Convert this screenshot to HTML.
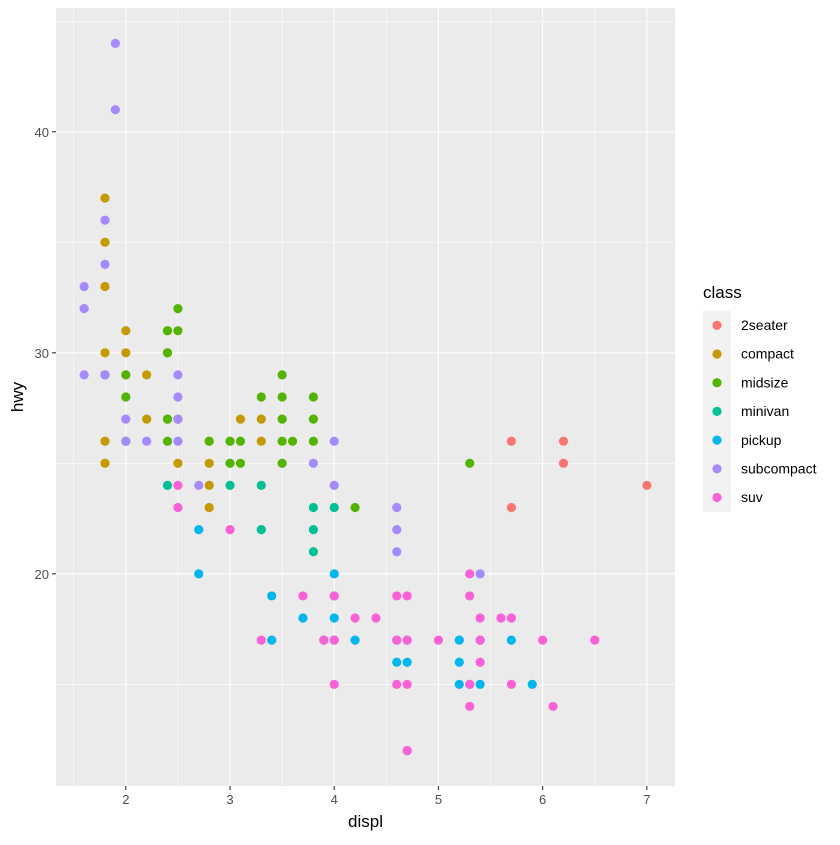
<!DOCTYPE html>
<html><head><meta charset="utf-8"><style>body{margin:0;background:#fff}svg{font-family:"Liberation Sans",sans-serif}</style></head>
<body>
<svg id="chart" width="840" height="840"></svg>
<script>
const classes=["2seater","compact","midsize","minivan","pickup","subcompact","suv"];
const colors=["#F8766D","#C49A00","#53B400","#00C094","#00B6EB","#A58AFF","#FB61D7"];
const displ=[5.7,6.2,6.2,5.7,7,
1.8,1.8,1.8,1.8,1.8,1.8,1.8,2,2,2,2.2,2.2,2.4,2.4,2.4,2.5,2.5,2.8,2.8,2.8,2.8,3,3.1,3.3,3.3,
1.8,2,2,2,2.4,2.4,2.4,2.4,2.5,2.5,2.8,3,3,3.1,3.1,3.3,3.5,3.5,3.5,3.5,3.5,3.6,3.8,3.8,3.8,4.2,5.3,
2.4,3,3.3,3.3,3.8,3.8,3.8,4,
2.7,2.7,3.4,3.4,3.7,4,4,4,4,4.2,4.6,4.6,4.7,4.7,4.7,5.2,5.2,5.2,5.4,5.3,5.4,5.7,5.9,3.9,
1.6,1.6,1.6,1.8,1.9,1.9,1.8,1.8,2,2,2.2,2.5,2.5,2.5,2.5,2.7,3.8,4,4,4.6,4.6,4.6,5.4,
2.5,2.5,3,3.3,3.7,3.9,4,4,4,4.2,4.4,4.6,4.6,4.6,4.7,4.7,4.7,4.7,5,5.3,5.3,5.3,5.3,5.4,5.4,5.4,5.6,5.7,5.7,6,6.1,6.5];
const hwy=[26,26,25,23,24,
37,35,33,30,29,26,25,31,30,29,29,27,31,30,27,27,25,25,24,23,26,26,27,27,26,
29,29,28,26,31,30,27,26,32,31,26,26,25,26,25,28,29,28,27,26,25,26,28,27,26,23,25,
24,24,24,22,23,22,21,23,
22,20,19,17,18,20,19,18,17,17,17,16,17,16,12,17,16,15,17,15,15,17,15,17,
33,32,29,29,44,41,36,34,27,26,26,29,28,27,26,24,25,26,24,23,22,21,20,
24,23,22,17,19,17,19,17,15,18,18,19,17,15,19,17,15,12,17,20,19,15,14,18,17,16,18,18,15,17,14,17];
const cls=[0,0,0,0,0];
[25,27,8,24,23,32].forEach((n,i)=>{for(let k=0;k<n;k++)cls.push(i+1);});
const xTicks=[2,3,4,5,6,7], yTicks=[20,30,40];
const xMinor=[1.5,2.5,3.5,4.5,5.5,6.5], yMinor=[15,25,35,45];
const L=56,R=675,T=8,B=786,x0=1.33,x1=7.27,y0=10.4,y1=45.6;
const X=v=>L+(v-x0)/(x1-x0)*(R-L), Y=v=>B-(v-y0)/(y1-y0)*(B-T);
const s=document.getElementById('chart'),NS="http://www.w3.org/2000/svg";
function el(t,a,p){const e=document.createElementNS(NS,t);for(const k in a)e.setAttribute(k,a[k]);(p||s).appendChild(e);return e;}
let e=el('rect',{x:L,y:T,width:R-L,height:B-T,fill:'#EBEBEB'});


xMinor.forEach(v=>{let g=el('line',{x1:X(v),x2:X(v),y1:T,y2:B,stroke:'#fff','stroke-width':0.55});});
yMinor.forEach(v=>{let g=el('line',{y1:Y(v),y2:Y(v),x1:L,x2:R,stroke:'#fff','stroke-width':0.55});});
xTicks.forEach(v=>{let g=el('line',{x1:X(v),x2:X(v),y1:T,y2:B,stroke:'#fff','stroke-width':1.1});
g=el('line',{x1:X(v),x2:X(v),y1:B,y2:B+4,stroke:'#333','stroke-width':1.1});
g=el('text',{x:X(v),y:B+18,'text-anchor':'middle','font-size':13,fill:'#4D4D4D'});g.textContent=v;});
yTicks.forEach(v=>{let g=el('line',{y1:Y(v),y2:Y(v),x1:L,x2:R,stroke:'#fff','stroke-width':1.1});
g=el('line',{y1:Y(v),y2:Y(v),x1:L-4,x2:L,stroke:'#333','stroke-width':1.1});
g=el('text',{x:L-7,y:Y(v)+5,'text-anchor':'end','font-size':13,fill:'#4D4D4D'});g.textContent=v;});
displ.forEach((d,i)=>{let c=el('circle',{cx:X(d),cy:Y(hwy[i]),r:4.6,fill:colors[cls[i]]});});
let t=el('text',{x:(L+R)/2,y:827,'text-anchor':'middle','font-size':17,fill:'#000'});t.textContent='displ';
t=el('text',{x:0,y:0,transform:`translate(23,${(T+B)/2}) rotate(-90)`,'text-anchor':'middle','font-size':17,fill:'#000'});t.textContent='hwy';
t=el('text',{x:703,y:298,'font-size':17,fill:'#000'});t.textContent='class';
classes.forEach((c,i)=>{const yy=311+i*28.7;
let r=el('rect',{x:703,y:yy,width:28,height:28.7,fill:'#F2F2F2'});
let p=el('circle',{cx:717,cy:yy+14.3,r:4.6,fill:colors[i]});
let tx=el('text',{x:741,y:yy+19,'font-size':14,fill:'#000'});tx.textContent=c;});
</script>
</body></html>
